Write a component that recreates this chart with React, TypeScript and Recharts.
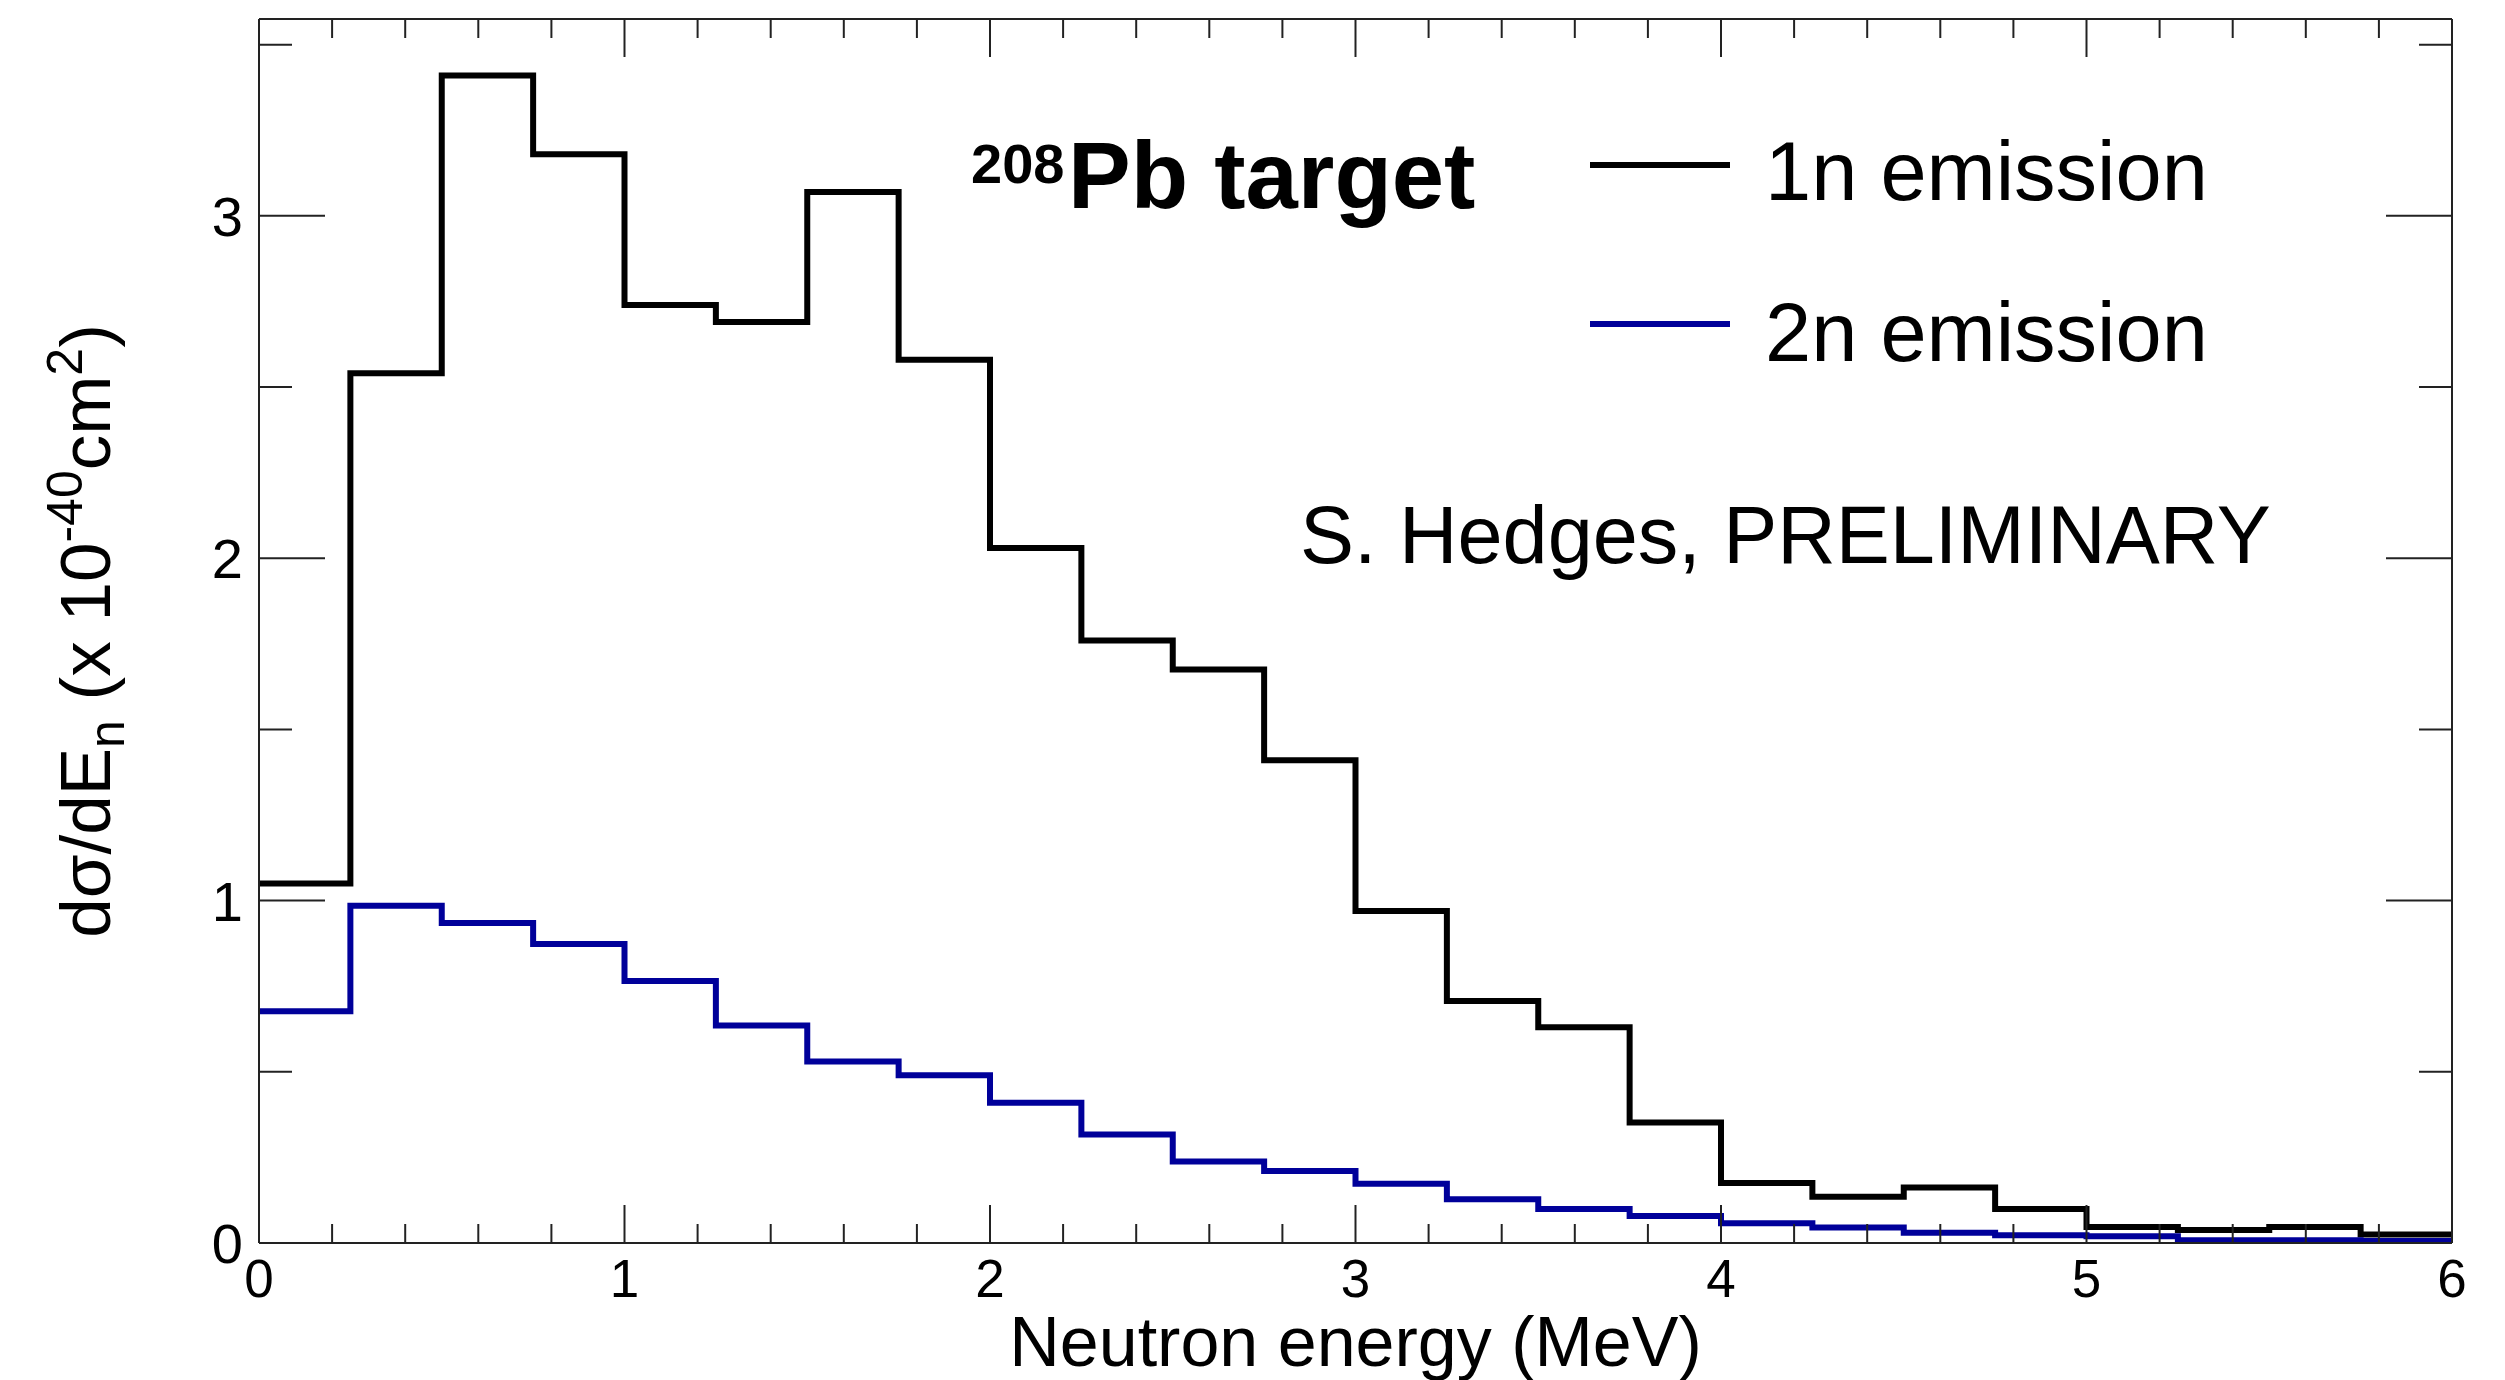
import React from "react";
import { LineChart, Line, XAxis, YAxis, Legend } from "recharts";

// bin edges (MeV), 0.25 MeV wide bins
const binEdges = [
  0, 0.25, 0.5, 0.75, 1, 1.25, 1.5, 1.75, 2, 2.25, 2.5, 2.75, 3, 3.25, 3.5, 3.75,
  4, 4.25, 4.5, 4.75, 5, 5.25, 5.5, 5.75, 6,
];

// dsigma/dE_n (x 1e-40 cm^2), one value per bin
const oneN = [
  1.05, 2.54, 3.41, 3.18, 2.74, 2.69, 3.07, 2.58, 2.03, 1.76, 1.675, 1.41,
  0.97, 0.707, 0.63, 0.352, 0.175, 0.135, 0.162, 0.099, 0.047, 0.038, 0.047, 0.025,
];
const twoN = [
  0.677, 0.985, 0.935, 0.873, 0.765, 0.635, 0.53, 0.49, 0.41, 0.317, 0.238, 0.21,
  0.173, 0.128, 0.099, 0.079, 0.058, 0.045, 0.03, 0.0225, 0.02, 0.008, 0.008, 0.006,
];

const xTicks = [
  0, 0.2, 0.4, 0.6, 0.8, 1, 1.2, 1.4, 1.6, 1.8, 2, 2.2, 2.4, 2.6, 2.8, 3, 3.2, 3.4,
  3.6, 3.8, 4, 4.2, 4.4, 4.6, 4.8, 5, 5.2, 5.4, 5.6, 5.8, 6,
];
const yTicks = [0, 0.5, 1, 1.5, 2, 2.5, 3, 3.5];

// last edge repeats the last bin so the step runs out to 6 MeV
const data = binEdges.map((e, i) => ({
  e,
  n1: oneN[Math.min(i, oneN.length - 1)],
  n2: twoN[Math.min(i, twoN.length - 1)],
}));

const FONT = "'Liberation Sans', Arial, Helvetica, sans-serif";
const FRAME = "#222";
const BLUE = "#00009a";

const isMajor = (v: number) => Math.abs(v - Math.round(v)) < 1e-6;

const BottomTick = (props: any) => {
  const { x, y, payload } = props;
  const major = isMajor(payload.value);
  return (
    <g>
      <line x1={x} x2={x} y1={y} y2={y - (major ? 38 : 19)} stroke={FRAME} strokeWidth={2} />
      {major && (
        <text x={x} y={y + 54} textAnchor="middle" fontSize={53} fontFamily={FONT} fill="#000">
          {Math.round(payload.value)}
        </text>
      )}
    </g>
  );
};

const TopTick = (props: any) => {
  const { x, y, payload } = props;
  const major = isMajor(payload.value);
  return <line x1={x} x2={x} y1={y} y2={y + (major ? 38 : 19)} stroke={FRAME} strokeWidth={2} />;
};

const LeftTick = (props: any) => {
  const { x, y, payload } = props;
  const major = isMajor(payload.value);
  return (
    <g>
      <line x1={x} x2={x + (major ? 66 : 33)} y1={y} y2={y} stroke={FRAME} strokeWidth={2} />
      {major && (
        <text x={x - 16} y={y + 20} textAnchor="end" fontSize={56} fontFamily={FONT} fill="#000">
          {Math.round(payload.value)}
        </text>
      )}
    </g>
  );
};

const RightTick = (props: any) => {
  const { x, y, payload } = props;
  const major = isMajor(payload.value);
  return <line x1={x} x2={x - (major ? 66 : 33)} y1={y} y2={y} stroke={FRAME} strokeWidth={2} />;
};

const XTitle = (props: any) => {
  const { viewBox } = props;
  return (
    <text
      x={viewBox.x + viewBox.width / 2}
      y={viewBox.y + 123}
      textAnchor="middle"
      fontSize={70}
      fontFamily={FONT}
      fill="#000"
    >
      Neutron energy (MeV)
    </text>
  );
};

const YTitle = (props: any) => {
  const { viewBox } = props;
  const cx = viewBox.x - 49;
  const cy = viewBox.y + viewBox.height / 2;
  return (
    <text
      x={cx}
      y={cy}
      transform={`rotate(-90, ${cx}, ${cy})`}
      textAnchor="middle"
      fontSize={71}
      fontFamily={FONT}
      fill="#000"
    >
      <tspan>dσ/dE</tspan>
      <tspan fontSize={50} dy={14}>n</tspan>
      <tspan dy={-14}> (x 10</tspan>
      <tspan fontSize={50} dy={-28}>-40</tspan>
      <tspan dy={28}>cm</tspan>
      <tspan fontSize={50} dy={-28}>2</tspan>
      <tspan dy={28}>)</tspan>
    </text>
  );
};

const renderLegend = (props: any) => {
  const payload = props.payload || [];
  return (
    <svg width={700} height={290}>
      {payload.map((p: any, i: number) => (
        <g key={p.value}>
          <line x1={0} x2={140} y1={65 + i * 159} y2={65 + i * 159} stroke={p.color} strokeWidth={6} />
          <text x={175} y={100 + i * 161} fontSize={83} fontFamily={FONT} fill="#000">
            {p.value}
          </text>
        </g>
      ))}
    </svg>
  );
};

export default function App() {
  return (
    <div style={{ position: "absolute", left: 0, top: 0, width: 2505, height: 1380, background: "#fff" }}>
      <LineChart
        width={2505}
        height={1380}
        data={data}
        margin={{ top: 18, right: 52, left: 159, bottom: 77 }}
      >
        <XAxis
          dataKey="e"
          type="number"
          domain={[0, 6]}
          ticks={xTicks}
          interval={0}
          height={60}
          tickSize={0}
          tickMargin={0}
          tickLine={false}
          axisLine={{ stroke: FRAME, strokeWidth: 2 }}
          tick={<BottomTick />}
          label={{ content: <XTitle /> }}
        />
        <XAxis
          xAxisId="top"
          orientation="top"
          dataKey="e"
          type="number"
          domain={[0, 6]}
          ticks={xTicks}
          interval={0}
          height={1}
          tickSize={0}
          tickMargin={0}
          tickLine={false}
          axisLine={{ stroke: FRAME, strokeWidth: 2 }}
          tick={<TopTick />}
        />
        <YAxis
          type="number"
          domain={[0, 3.575]}
          allowDataOverflow
          ticks={yTicks}
          interval={0}
          width={100}
          tickSize={0}
          tickMargin={0}
          tickLine={false}
          axisLine={{ stroke: FRAME, strokeWidth: 2 }}
          tick={<LeftTick />}
          label={{ content: <YTitle /> }}
        />
        <YAxis
          yAxisId="right"
          orientation="right"
          type="number"
          domain={[0, 3.575]}
          allowDataOverflow
          ticks={yTicks}
          interval={0}
          width={1}
          tickSize={0}
          tickMargin={0}
          tickLine={false}
          axisLine={{ stroke: FRAME, strokeWidth: 2 }}
          tick={<RightTick />}
        />
        <Legend
          layout="horizontal"
          verticalAlign="middle"
          align="center"
          wrapperStyle={{ left: 1590, top: 100, width: 700, height: 290 }}
          content={renderLegend}
        />
        <Line
          type="stepAfter"
          dataKey="n1"
          name="1n emission"
          stroke="#000"
          strokeWidth={6}
          strokeLinejoin="miter"
          dot={false}
          activeDot={false}
          isAnimationActive={false}
        />
        <Line
          type="stepAfter"
          dataKey="n2"
          name="2n emission"
          stroke={BLUE}
          strokeWidth={6}
          strokeLinejoin="miter"
          dot={false}
          activeDot={false}
          isAnimationActive={false}
        />
        <text x={971} y={183} fontSize={56} fontWeight="bold" fontFamily={FONT} fill="#000">
          208
        </text>
        <text x={1068} y={208} fontSize={94} fontWeight="bold" fontFamily={FONT} fill="#000">
          Pb target
        </text>
        <text x={1300} y={563} fontSize={81} fontFamily={FONT} fill="#000">
          S. Hedges, PRELIMINARY
        </text>
      </LineChart>
    </div>
  );
}
